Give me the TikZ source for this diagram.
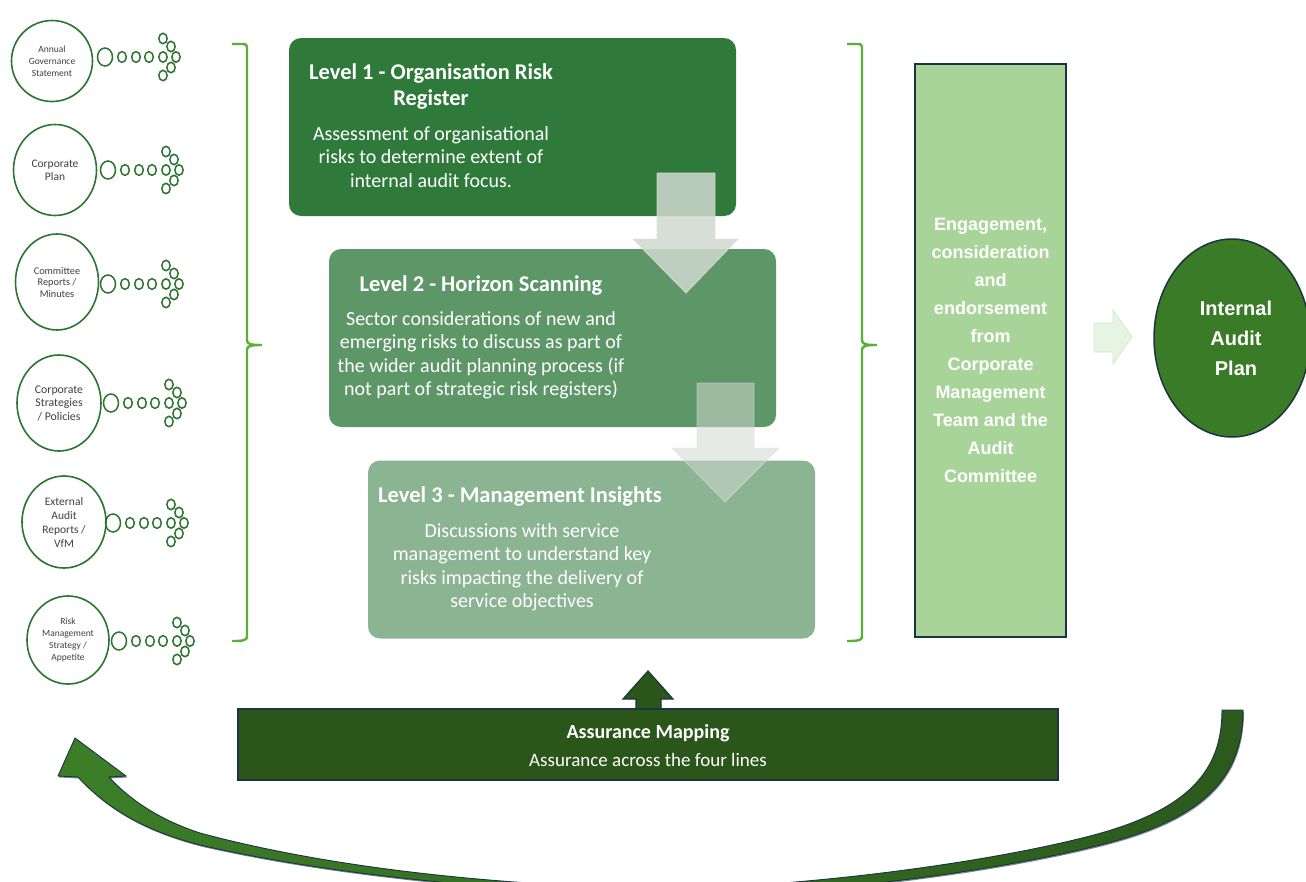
\documentclass[tikz,border=0pt]{standalone}
\usepackage{fontspec}
\newfontfamily\carlito{Carlito}
\newfontfamily\libsans{Liberation Sans}
\usetikzlibrary{shapes.geometric}
\definecolor{lvlone}{HTML}{2F7A3B}
\definecolor{lvltwo}{HTML}{5E9767}
\definecolor{lvlthree}{HTML}{8BB592}
\definecolor{engfill}{HTML}{A8D49A}
\definecolor{navy}{HTML}{1B3440}
\definecolor{iapfill}{HTML}{3A7B27}
\definecolor{amfill}{HTML}{2A561A}
\definecolor{brkcol}{HTML}{5AAE3A}
\definecolor{srccol}{HTML}{2D7430}
\definecolor{srctext}{HTML}{404040}
\definecolor{flowfill}{HTML}{CFD8CF}
\definecolor{curvea}{HTML}{3C7E28}
\definecolor{curveb}{HTML}{2B5A1C}
\definecolor{smallarrow}{HTML}{E6F4E2}
\definecolor{smallarrowedge}{HTML}{D3EACC}
\tikzset{
  src/.style={ellipse, draw=srccol, line width=1.6pt, fill=white, align=center,
    text=srctext, inner sep=0pt},
  dotline/.style={draw=srccol, line width=1.5pt},
  dots/.pic={
    \draw[dotline] (0,0) ellipse [x radius=7.5, y radius=9];
    \foreach \x in {17,31,44} \draw[dotline] (\x,0) ellipse [x radius=4.3, y radius=5.4];
    \foreach \p in {(58,-18.5),(66,-10.5),(71,0),(66,10.5),(58,18.5),(58,0)}
      \draw[dotline] \p ellipse [x radius=4.2, y radius=5.2];
  },
  brk/.style={draw=brkcol, line width=2.4pt},
  lvlbox/.style={rectangle, rounded corners=12pt, minimum width=447pt, minimum height=178pt, inner sep=0pt},
  lvltitle/.style={text=white, align=center, font=\carlito\bfseries\fontsize{22.5}{26}\selectfont},
  lvlbody/.style={text=white, align=center, font=\carlito\fontsize{20}{23.5}\selectfont},
  flowarrow/.style={fill=flowfill, draw=flowfill!80!white, line width=0.8pt},
}
\def\returnpath{(1243,710) .. controls (1243,780) and (1200,820) .. (1100,845)
  .. controls (1000,870) and (830,895) .. (660,896)
  .. controls (450,889) and (300,868) .. (200,845)
  .. controls (150,832) and (110,812) .. (78,777)
  -- (58,776) -- (75,738) -- (126,776) -- (109,777)
  .. controls (130,800) and (160,820) .. (200,833)
  .. controls (300,860) and (450,884) .. (660,889)
  .. controls (810,887) and (990,862) .. (1090,836)
  .. controls (1190,810) and (1222,770) .. (1222,710) -- cycle}
\begin{document}
\begin{tikzpicture}[x=1pt,y=-1pt]
\useasboundingbox (0,0) rectangle (1306,881);

% source circles
\node[src, minimum width=81pt, minimum height=81pt, font=\carlito\fontsize{9.5}{12}\selectfont] (s1) at (52,61) {Annual\\Governance\\Statement};
\node[src, minimum width=83pt, minimum height=91pt, font=\carlito\fontsize{11.5}{13}\selectfont] (s2) at (55,170) {Corporate\\Plan};
\node[src, minimum width=83pt, minimum height=96pt, font=\carlito\fontsize{10.3}{11.5}\selectfont] (s3) at (57,282) {Committee\\Reports /\\Minutes};
\node[src, minimum width=84pt, minimum height=96pt, font=\carlito\fontsize{11.8}{13.5}\selectfont] (s4) at (59,403) {Corporate\\Strategies\\/ Policies};
\node[src, minimum width=84pt, minimum height=92pt, font=\carlito\fontsize{11.5}{14}\selectfont] (s5) at (64,522) {External\\Audit\\Reports /\\VfM};
\node[src, minimum width=82pt, minimum height=88pt, font=\carlito\fontsize{9.5}{12.3}\selectfont] (s6) at (68,640) {Risk\\Management\\Strategy /\\Appetite};

\pic at (105,57) {dots};
\pic at (108,170) {dots};
\pic at (108,284) {dots};
\pic at (111,403) {dots};
\pic at (113,523) {dots};
\pic at (119,641) {dots};

% brackets
\draw[brk] (232,44) -- (243,44) .. controls (247,44) and (247,46) .. (247,50) -- (247,340)
  .. controls (247,344) and (250,345) .. (262,345) .. controls (250,345) and (247,346) .. (247,350)
  -- (247,636) .. controls (247,640) and (245,641) .. (232,641);
\begin{scope}[xshift=615pt]
\draw[brk] (232,44) -- (243,44) .. controls (247,44) and (247,46) .. (247,50) -- (247,340)
  .. controls (247,344) and (250,345) .. (262,345) .. controls (250,345) and (247,346) .. (247,350)
  -- (247,636) .. controls (247,640) and (245,641) .. (232,641);
\end{scope}

% level boxes
\node[lvlbox, fill=lvlone] (l1) at (512.5,127) {};
\node[lvlbox, fill=lvltwo] (l2) at (552.5,338) {};
\node[lvlbox, fill=lvlthree] (l3) at (591.5,549.5) {};

% flow arrows
\path[flowarrow, opacity=0.85] (657,173) -- (715,173) -- (715,239) -- (738,239) -- (686,293) -- (633,239) -- (657,239) -- cycle;
\path[flowarrow, opacity=0.55] (697,383) -- (754,383) -- (754,448) -- (779,448) -- (725,502) -- (672,448) -- (697,448) -- cycle;

% level texts
\node[lvltitle] (t1) at (431,86) {Level 1 - Organisation Risk\\Register};
\node[lvlbody] (b1) at (431,157) {Assessment of organisational\\risks to determine extent of\\internal audit focus.};
\node[lvltitle] (t2) at (481,286) {Level 2 - Horizon Scanning};
\node[lvlbody] (b2) at (481,355.5) {Sector considerations of new and\\emerging risks to discuss as part of\\the wider audit planning process (if\\not part of strategic risk registers)};
\node[lvltitle] (t3) at (520,497) {Level 3 - Management Insights};
\node[lvlbody] (b3) at (522,567.5) {Discussions with service\\management to understand key\\risks impacting the delivery of\\service objectives};

% engagement box
\node[rectangle, draw=navy, line width=1.5pt, fill=engfill, minimum width=151pt, minimum height=573pt,
  text=white, align=center, font=\libsans\bfseries\fontsize{18}{28}\selectfont] (eng) at (990.5,350.5)
  {Engagement,\\consideration\\and\\endorsement\\from\\Corporate\\Management\\Team and the\\Audit\\Committee};

% small arrow to plan
\path[fill=smallarrow, draw=smallarrowedge, line width=0.8pt] (1094,323) -- (1113,323) -- (1113,310) -- (1132,337) -- (1113,364) -- (1113,352) -- (1094,352) -- cycle;

% internal audit plan
\node[ellipse, draw=navy, line width=1.5pt, fill=iapfill, minimum width=156pt, minimum height=198pt,
  text=white, align=center, inner sep=0pt, font=\libsans\bfseries\fontsize{20}{30}\selectfont] (iap) at (1232,338)
  {\hspace*{8pt}Internal\\\hspace*{8pt}Audit\\\hspace*{8pt}Plan};

% assurance mapping
\path[fill=amfill, draw=navy, line width=1.2pt] (636,709.5) -- (636,699) -- (623,699) -- (648,671) -- (673,699) -- (661,699) -- (661,709.5);
\node[rectangle, draw=navy, line width=1.5pt, fill=amfill, minimum width=820pt, minimum height=71pt] (am) at (648,744.5) {};
\node[text=white, font=\carlito\bfseries\fontsize{20}{24}\selectfont] (amt) at (648,733) {Assurance Mapping};
\node[text=white, font=\carlito\fontsize{19}{23}\selectfont] (ams) at (648,760) {Assurance across the four lines};

% big curved return arrow (with slight shadow)
\begin{scope}[shift={(1,1.5)}]
\path[fill=navy, opacity=0.6] \returnpath;
\end{scope}
\path[left color=curvea, right color=curveb, draw=navy, line width=0.9pt] \returnpath;
\end{tikzpicture}
\end{document}
